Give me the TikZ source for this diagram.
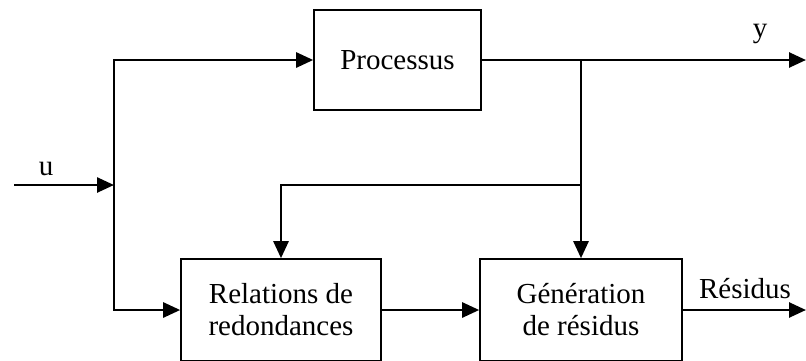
\documentclass[tikz,border=0pt]{standalone}
\usepackage{fontspec}
\setmainfont{Liberation Serif}
\usetikzlibrary{arrows.meta}

\begin{document}
\begin{tikzpicture}[x=1pt, y=-1pt,
    bloc/.style={draw, line width=1.6pt, minimum width=#1,
      minimum height=102pt, align=center, inner sep=0pt},
    bloc/.default=200pt,
    fleche/.style={line width=2.6pt, -{Triangle[length=17pt, width=15pt]}},
    every node/.style={font=\fontsize{29}{32}\selectfont}]

      % Fix the frame
      \useasboundingbox (0,0) rectangle (806,360);

      % Draw the blocks
      \node[bloc=167pt, minimum height=100pt] (proc) at (397.5,60) {Processus};
      \node[bloc=200pt] (rel) at (281,310) {Relations de\\redondances};
      \node[bloc=202pt] (gen) at (581,310) {Génération\\de résidus};

      % Branch points and free ends
      \coordinate (uin) at (14,185);
      \coordinate (split) at (114,185);
      \coordinate (tap) at (581,60);
      \coordinate (fb) at (581,185);
      \coordinate (yout) at (806,60);
      \coordinate (res) at (806,310);

      % Input u
      \draw[fleche] (uin) -- (split);
      \draw[fleche] (split) |- (proc.west);
      \draw[fleche] (split) |- (rel.west);

      % Output y and its branches
      \draw[fleche] (proc.east) -- (yout);
      \draw[fleche] (tap) -- (gen.north);
      \draw[fleche] (fb) -| (rel.north);

      % Residual chain
      \draw[fleche] (rel.east) -- (gen.west);
      \draw[fleche] (gen.east) -- (res);

      % Signal labels
      \node[anchor=base] (ulab) at (46,175) {u};
      \node[anchor=base] (ylab) at (760,37) {y};
      \node[anchor=base] (reslab) at (745,298) {Résidus};
    \end{tikzpicture}
\end{document}
